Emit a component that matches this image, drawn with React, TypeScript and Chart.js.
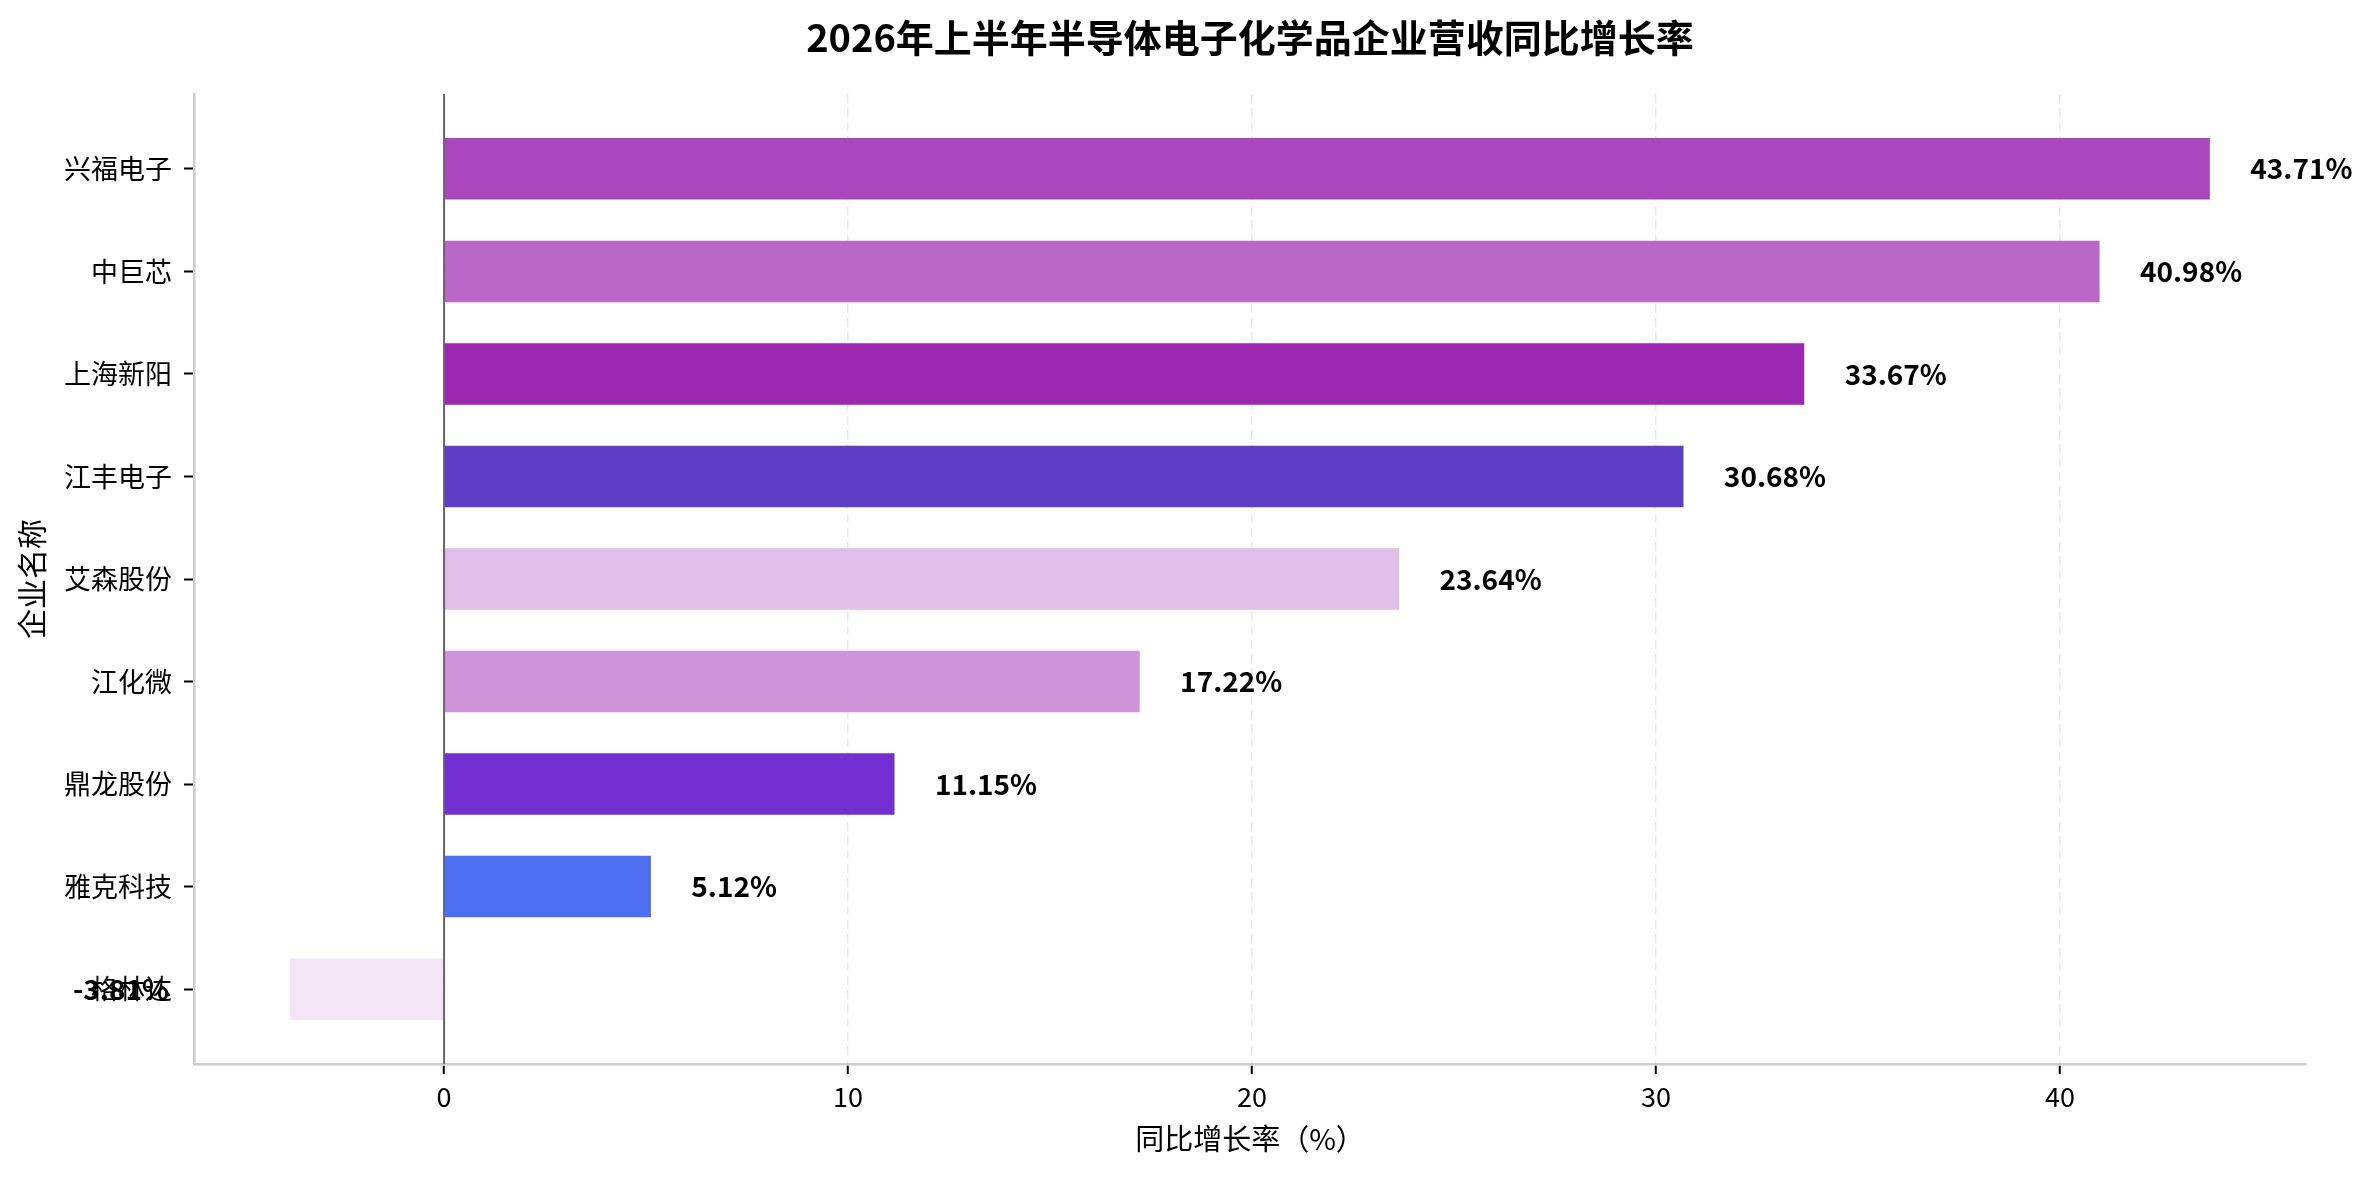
import React, { useEffect, useRef } from "react";
import { Chart, registerables } from "chart.js";

Chart.register(...registerables);

const categories = ["兴福电子", "中巨芯", "上海新阳", "江丰电子", "艾森股份", "江化微", "鼎龙股份", "雅克科技", "格林达"];
const growth = [43.71, 40.98, 33.67, 30.68, 23.64, 17.22, 11.15, 5.12, -3.81];
const barColors = ["#AB47BC", "#BA68C8", "#9C27B0", "#5E3EC6", "#E1BEE7", "#CE93D8", "#742FD2", "#4E6EF2", "#F3E5F5"];
const xTicks = [0, 10, 20, 30, 40];
const titleText = "2026年上半年半导体电子化学品企业营收同比增长率";
const xTitle = "同比增长率（%）";
const yTitle = "企业名称";

const FONT = "'Noto Sans CJK SC', 'Noto Sans', sans-serif";

export default function App() {
  const ref = useRef<HTMLCanvasElement | null>(null);

  useEffect(() => {
    document.body.style.margin = "0";
    const canvas = ref.current;
    if (!canvas) return;

    const overlay = {
      id: "overlay",
      afterDatasetsDraw(chart: any) {
        const ctx = chart.ctx;
        const xs = chart.scales.x;
        const area = chart.chartArea;
        const x0 = xs.getPixelForValue(0);
        ctx.save();
        ctx.setLineDash([]);
        ctx.strokeStyle = "#666666";
        ctx.lineWidth = 2;
        ctx.beginPath();
        ctx.moveTo(x0, area.top);
        ctx.lineTo(x0, area.bottom);
        ctx.stroke();
        const meta = chart.getDatasetMeta(0);
        ctx.fillStyle = "#000";
        ctx.font = `bold 28px ${FONT}`;
        ctx.textBaseline = "middle";
        meta.data.forEach((el: any, i: number) => {
          const v = growth[i];
          if (v >= 0) {
            ctx.textAlign = "left";
            ctx.fillText(`${v.toFixed(2)}%`, xs.getPixelForValue(v + 1), el.y);
          } else {
            ctx.textAlign = "right";
            ctx.fillText(`${v.toFixed(2)}%`, xs.getPixelForValue(v - 3), el.y);
          }
        });
        ctx.restore();
      },
      afterDraw(chart: any) {
        const ctx = chart.ctx;
        const area = chart.chartArea;
        ctx.save();
        ctx.fillStyle = "#000";
        ctx.font = `bold 38px ${FONT}`;
        ctx.textAlign = "center";
        ctx.textBaseline = "middle";
        ctx.fillText(titleText, (area.left + area.right) / 2, 38);
        ctx.restore();
      },
    };

    const chart = new Chart(canvas, {
      type: "bar",
      data: {
        datasets: [
          {
            data: growth.map((v, i) => ({ x: v, y: i })),
            backgroundColor: barColors,
            borderWidth: 0,
            categoryPercentage: 1,
            barPercentage: 0.6,
          },
        ],
      },
      options: {
        indexAxis: "y",
        responsive: false,
        animation: false,
        devicePixelRatio: 1,
        layout: { padding: { top: 94, right: 67, left: 0, bottom: 0 } },
        plugins: {
          legend: { display: false },
          tooltip: { enabled: false },
          title: { display: false },
        },
        scales: {
          x: {
            type: "linear",
            position: "bottom",
            min: -6.19,
            max: 46.09,
            offset: false,
            afterBuildTicks: (s: any) => {
              s.ticks = xTicks.map((v) => ({ value: v }));
            },
            afterFit: (s: any) => {
              s.height = 113;
            },
            ticks: {
              color: "#000",
              font: { family: FONT, size: 27 },
              padding: 7,
              callback: (v: any) => String(v),
            },
            grid: {
              offset: false,
              color: "rgba(0,0,0,0.09)",
              lineWidth: 1.5,
              tickColor: "#000",
              tickLength: 10,
              tickWidth: 2,
              tickBorderDash: [],
            },
            border: { color: "#cccccc", width: 2.5, dash: [9, 5] },
            title: {
              display: true,
              text: xTitle,
              color: "#000",
              font: { family: FONT, size: 29 },
              padding: { top: 0, bottom: 21 },
            },
          },
          y: {
            type: "linear",
            position: "left",
            reverse: true,
            min: -0.73,
            max: 8.73,
            offset: false,
            afterBuildTicks: (s: any) => {
              s.ticks = categories.map((_, i) => ({ value: i }));
            },
            afterFit: (s: any) => {
              s.width = 194;
            },
            ticks: {
              color: "#000",
              font: { family: FONT, size: 27 },
              padding: 12,
              callback: (v: any) => categories[v] ?? "",
            },
            grid: {
              offset: false,
              drawOnChartArea: false,
              tickColor: "#000",
              tickLength: 10,
              tickWidth: 2,
            },
            border: { color: "#cccccc", width: 2.5 },
            title: {
              display: true,
              text: yTitle,
              color: "#000",
              font: { family: FONT, size: 30 },
              padding: { top: 14, bottom: 0 },
            },
          },
        },
      },
      plugins: [overlay],
    } as any);

    return () => chart.destroy();
  }, []);

  return (
    <div style={{ width: 2373, height: 1177, background: "#fff" }}>
      <canvas ref={ref} width={2373} height={1177} style={{ display: "block" }} />
    </div>
  );
}
